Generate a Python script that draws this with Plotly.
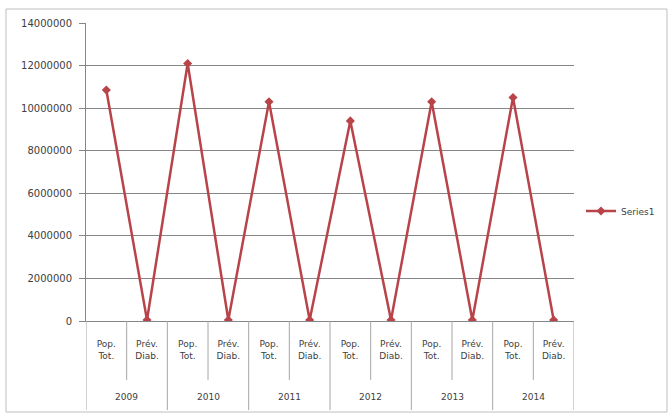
import plotly.graph_objects as go

years = ["2009", "2010", "2011", "2012", "2013", "2014"]
sub_labels = ["Pop.<br>Tot.", "Prév.<br>Diab."]
values = [10850000, 50000, 12100000, 50000, 10300000, 50000,
          9400000, 50000, 10300000, 50000, 10500000, 50000]
y_ticks = [0, 2000000, 4000000, 6000000, 8000000, 10000000, 12000000, 14000000]

n = len(values)
idx = list(range(n))
tick_text = [sub_labels[i % len(sub_labels)] for i in idx]

L, R, T, B = 86, 96, 23, 94
W, H = 670, 415
pw, ph = W - L - R, H - T - B

def py(pix):  # pixel y -> paper y
    return (H - B - pix) / ph

def px(pix):
    return (pix - L) / pw

color = "#B8444A"
fig = go.Figure()
fig.add_trace(go.Scatter(
    x=idx, y=values, mode="lines+markers", name="Series1",
    line=dict(color=color, width=2.5),
    marker=dict(symbol="diamond", size=7, color=color),
))

shapes = []
for b in range(n + 1):
    major = (b % len(sub_labels) == 0)
    shapes.append(dict(type="line", xref="x", yref="paper",
                       x0=b - 0.5, x1=b - 0.5, y0=0, y1=py(410 if major else 380),
                       line=dict(color="#A6A6A6", width=1)))
shapes.append(dict(type="rect", xref="paper", yref="paper",
                   x0=px(6), x1=px(667), y0=py(412), y1=py(9),
                   line=dict(color="#BFBFBF", width=1), fillcolor="rgba(0,0,0,0)", layer="below"))

annotations = []
for g, yr in enumerate(years):
    annotations.append(dict(xref="x", yref="paper", x=g * len(sub_labels) + (len(sub_labels) - 1) / 2,
                            y=py(397), text=yr, showarrow=False, xanchor="center", yanchor="middle",
                            font=dict(family="DejaVu Sans", size=9, color="#404040")))

fig.update_layout(
    width=W, height=H,
    margin=dict(l=L, r=R, t=T, b=B, autoexpand=False),
    paper_bgcolor="white", plot_bgcolor="white",
    font=dict(family="DejaVu Sans", size=9, color="#404040"),
    showlegend=True,
    legend=dict(x=px(581), y=py(211), xanchor="left", yanchor="middle",
                font=dict(size=9, color="#404040"), bgcolor="rgba(0,0,0,0)",
                itemwidth=30),
    xaxis=dict(range=[-0.5, n - 0.5], tickvals=idx, ticktext=tick_text,
               showgrid=False, showline=True, linecolor="#868686", linewidth=1,
               ticks="", zeroline=False, ticklabelstandoff=14,
               tickfont=dict(family="DejaVu Sans", size=9, color="#404040")),
    yaxis=dict(range=[0, 14000000], tickvals=y_ticks, tickformat="d",
               showgrid=True, gridcolor="#868686", gridwidth=1,
               showline=True, linecolor="#868686", ticks="outside", ticklen=6,
               tickcolor="#868686", zeroline=False, ticklabelstandoff=5,
               tickfont=dict(family="DejaVu Sans", size=10, color="#404040")),
    shapes=shapes,
    annotations=annotations,
)

fig.write_html("out.html")
